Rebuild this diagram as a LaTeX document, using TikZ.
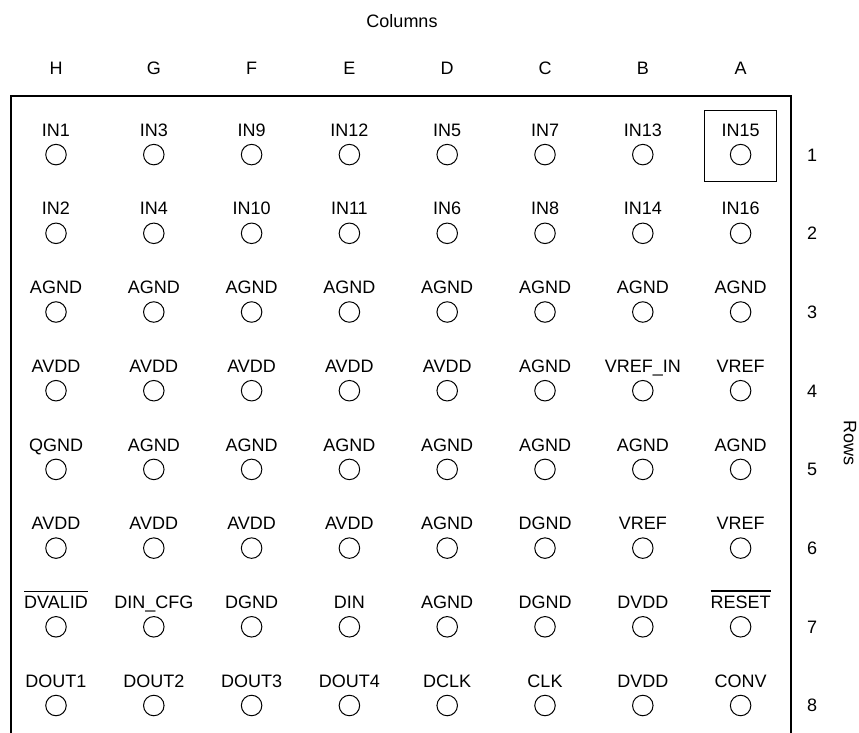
\documentclass[tikz,border=0pt]{standalone}
\usepackage{fontspec}
\setmainfont{Liberation Sans}
\newcommand\barred[1]{\leavevmode\vbox{\hrule height 1.3pt \kern 4.2pt \hbox{#1}}}
\begin{document}
\begin{tikzpicture}[x=1pt,y=-1pt,
  pin/.style={circle,draw,line width=1pt,minimum size=20.5pt,inner sep=0pt},
  lbl/.style={font=\fontsize{18}{20}\selectfont,inner sep=0pt,anchor=base},
  frame/.style={line width=2.6pt},
  hlbox/.style={draw,line width=0.9pt,minimum width=72pt,minimum height=71.5pt,inner sep=0pt}]
\useasboundingbox (0,0) rectangle (859,733);
% headers
\node[lbl] (cols) at (402,28) {Columns};
\foreach \L [count=\c] in {H,G,F,E,D,C,B,A}
  \node[lbl] (col-\c) at ({56+97.8*(\c-1)},75) {\L};
% frame (open at the bottom)
\draw[frame] (11,740) -- (11,96) -- (791,96) -- (791,740);
% highlight box around A1
\node[hlbox] (hl) at (740.6,146) {};
% pins
\foreach \rowlist [count=\r] in {
  {IN1,IN3,IN9,IN12,IN5,IN7,IN13,IN15},
  {IN2,IN4,IN10,IN11,IN6,IN8,IN14,IN16},
  {AGND,AGND,AGND,AGND,AGND,AGND,AGND,AGND},
  {AVDD,AVDD,AVDD,AVDD,AVDD,AGND,VREF\_IN,VREF},
  {QGND,AGND,AGND,AGND,AGND,AGND,AGND,AGND},
  {AVDD,AVDD,AVDD,AVDD,AGND,DGND,VREF,VREF},
  {\barred{DVALID},DIN\_CFG,DGND,DIN,AGND,DGND,DVDD,\barred{RESET}},
  {DOUT1,DOUT2,DOUT3,DOUT4,DCLK,CLK,DVDD,CONV}} {
  \foreach \t [count=\c] in \rowlist {
    \node[pin] (p-\r-\c) at ({56+97.8*(\c-1)},{154.6+78.7*(\r-1)}) {};
    \node[lbl] (l-\r-\c) at ({56+97.8*(\c-1)},{136.2+78.7*(\r-1)}) {\t};
  }
  \node[lbl] (row-\r) at (812,{161+78.7*(\r-1)}) {\r};
}
\node[font=\fontsize{18}{20}\selectfont,inner sep=0pt,rotate=-90] (rows) at (850,443) {Rows};
\end{tikzpicture}
\end{document}
